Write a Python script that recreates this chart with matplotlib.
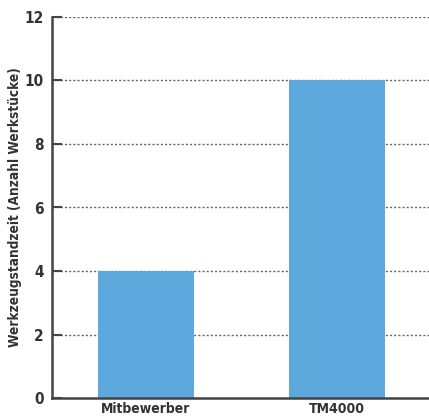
import matplotlib
matplotlib.use("Agg")
import matplotlib.pyplot as plt

categories = ["Mitbewerber", "TM4000"]
values = [4, 10]
yticks = [0, 2, 4, 6, 8, 10, 12]

plt.rcParams["font.family"] = ["DejaVu Sans"]
plt.rcParams["font.stretch"] = "condensed"

fig = plt.figure(figsize=(4.29, 4.19), dpi=100)
ax = fig.add_axes([52 / 429, 21 / 419, 1 - 52 / 429, (398 - 17) / 419])

ax.bar(range(len(categories)), values, width=0.5, color="#5DA9DD", zorder=2)

ax.set_ylim(0, 12)
ax.set_xlim(-0.49, 1.48)
ax.set_yticks(yticks)
ax.set_xticks(range(len(categories)))
ax.set_xticklabels(categories, fontsize=10, fontweight="bold", color="#333333")
ax.set_yticklabels([str(t) for t in yticks], fontsize=11, fontweight="bold", color="#333333")

ax.yaxis.grid(True, linestyle=(0, (1.5, 1.5)), color="#666666", linewidth=1, zorder=0)
ax.set_axisbelow(True)

for side in ["top", "right"]:
    ax.spines[side].set_visible(False)
for side in ["left", "bottom"]:
    ax.spines[side].set_color("#444444")
    ax.spines[side].set_linewidth(1.8)

ax.tick_params(axis="y", direction="in", length=7, width=1.5, color="#444444", pad=6)
ax.tick_params(axis="x", length=0, pad=3)

ax.set_ylabel("Werkzeugstandzeit (Anzahl Werkstücke)", fontsize=9.8, fontweight="bold",
              color="#333333", labelpad=2)

fig.savefig("out.png", dpi=100)
